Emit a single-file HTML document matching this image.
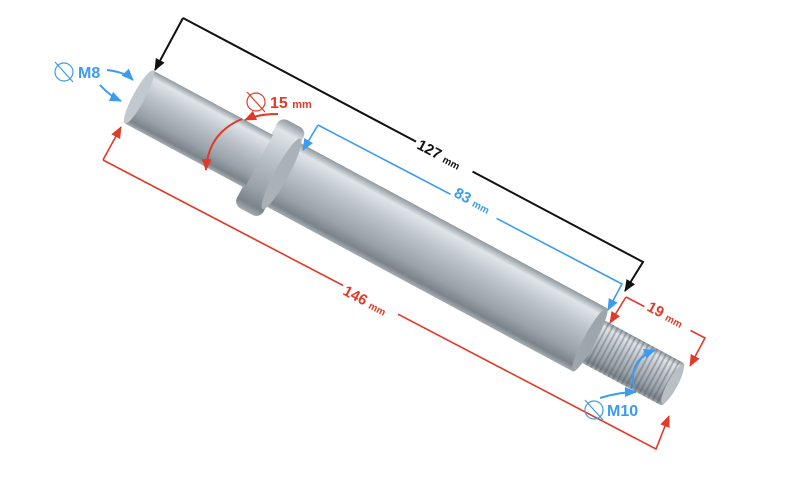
<!DOCTYPE html>
<html><head><meta charset="utf-8"><style>
html,body{margin:0;padding:0;background:#fff;}
svg{display:block;}
text{font-family:"Liberation Sans",sans-serif;font-weight:bold;}
</style></head><body>
<svg width="800" height="500" viewBox="0 0 800 500" xmlns="http://www.w3.org/2000/svg">
<defs>
<linearGradient id="gs" x1="0" y1="0" x2="0" y2="1">
<stop offset="0" stop-color="#8f989f"/>
<stop offset="0.12" stop-color="#dfe4e8"/>
<stop offset="0.4" stop-color="#bcc3c9"/>
<stop offset="0.75" stop-color="#9aa2a9"/>
<stop offset="0.92" stop-color="#7c848b"/>
<stop offset="1" stop-color="#a5adb3"/>
</linearGradient>
<pattern id="th" width="5" height="60" patternUnits="userSpaceOnUse">
<rect x="0" width="2" height="60" fill="#4c545b" opacity="0.35"/>
</pattern>
<marker id="ab" markerUnits="userSpaceOnUse" markerWidth="12" markerHeight="12" refX="11" refY="6" orient="auto"><path d="M0,1 L12,6 L0,11 z" fill="#111"/></marker>
<marker id="au" markerUnits="userSpaceOnUse" markerWidth="12" markerHeight="12" refX="11" refY="6" orient="auto"><path d="M0,1 L12,6 L0,11 z" fill="#3a9bf0"/></marker>
<marker id="ar" markerUnits="userSpaceOnUse" markerWidth="12" markerHeight="12" refX="11" refY="6" orient="auto"><path d="M0,1 L12,6 L0,11 z" fill="#e03a28"/></marker>
</defs>

<g transform="translate(139,97) rotate(28.3)">
  <rect x="505" y="-24" width="103" height="48" rx="4" fill="url(#gs)"/>
  <rect x="520" y="-24" width="85" height="48" fill="url(#th)"/>
  <ellipse cx="606" cy="0" rx="5" ry="22" fill="#b8c0c6"/>
  <rect x="160" y="-36" width="352" height="72" fill="url(#gs)"/>
  <ellipse cx="512" cy="0" rx="6" ry="36" fill="#9ea6ad"/>
  <rect x="134" y="-50" width="30" height="100" rx="8" fill="url(#gs)"/>
  <ellipse cx="162" cy="0" rx="7" ry="40" fill="#aab2b8"/>
  <rect x="0" y="-30" width="136" height="60" fill="url(#gs)"/>
  <ellipse cx="0" cy="0" rx="6" ry="30" fill="#c2c9ce"/>
</g>

<polyline points="183,18 643,262 625,291" fill="none" stroke="#111" stroke-width="2" marker-end="url(#ab)"/>
<path d="M183,18 L155,70" stroke="#111" stroke-width="2" marker-end="url(#ab)"/>
<polyline points="318,125 622,284 608,310" fill="none" stroke="#3a9bf0" stroke-width="1.6" marker-end="url(#au)"/>
<path d="M318,125 L303,150" stroke="#3a9bf0" stroke-width="1.6" marker-end="url(#au)"/>
<polyline points="103,160 656,449 669,416" fill="none" stroke="#e03a28" stroke-width="1.6" marker-end="url(#ar)"/>
<path d="M103,160 L121,127" stroke="#e03a28" stroke-width="1.6" marker-end="url(#ar)"/>
<polyline points="626,297 705,338 690,366" fill="none" stroke="#e03a28" stroke-width="1.6" marker-end="url(#ar)"/>
<path d="M626,297 L610,323" stroke="#e03a28" stroke-width="1.6" marker-end="url(#ar)"/>

<g transform="translate(416,148) rotate(28)"><rect x="-3" y="-15" width="64" height="20" fill="#fff"/><text x="0" y="0" font-size="15" fill="#111">127 <tspan font-size="10">mm</tspan></text></g>
<g transform="translate(453,196) rotate(28)"><rect x="-3" y="-15" width="52" height="20" fill="#fff"/><text x="0" y="0" font-size="15" fill="#3a9bf0">83 <tspan font-size="10">mm</tspan></text></g>
<g transform="translate(342,294) rotate(28)"><rect x="-3" y="-15" width="62" height="20" fill="#fff"/><text x="0" y="0" font-size="15" fill="#e03a28">146 <tspan font-size="10">mm</tspan></text></g>
<g transform="translate(646,310) rotate(28)"><rect x="-3" y="-15" width="52" height="20" fill="#fff"/><text x="0" y="0" font-size="15" fill="#e03a28">19 <tspan font-size="10">mm</tspan></text></g>

<circle cx="64" cy="72" r="9" fill="none" stroke="#3a9bf0" stroke-width="1.2"/>
<line x1="55" y1="62" x2="73" y2="82" stroke="#3a9bf0" stroke-width="1.2"/>
<text x="78" y="78" font-size="16" fill="#3a9bf0">M8</text>
<path d="M107,70 Q125,72 133,80" fill="none" stroke="#3a9bf0" stroke-width="2" marker-end="url(#au)"/>
<path d="M100,85 Q110,96 121,101" fill="none" stroke="#3a9bf0" stroke-width="2" marker-end="url(#au)"/>

<circle cx="256" cy="102" r="9" fill="none" stroke="#e03a28" stroke-width="1.2"/>
<line x1="247" y1="92" x2="265" y2="112" stroke="#e03a28" stroke-width="1.2"/>
<text x="270" y="108" font-size="16" fill="#e03a28">15 <tspan font-size="11">mm</tspan></text>
<path d="M278,114 Q258,114 245,120" fill="none" stroke="#e03a28" stroke-width="2" marker-end="url(#ar)"/>
<path d="M242,119 Q208,133 206,170" fill="none" stroke="#e03a28" stroke-width="2" marker-end="url(#ar)"/>

<circle cx="594" cy="410" r="9" fill="none" stroke="#3a9bf0" stroke-width="1.2"/>
<line x1="585" y1="400" x2="603" y2="420" stroke="#3a9bf0" stroke-width="1.2"/>
<text x="607" y="416" font-size="16" fill="#3a9bf0">M10</text>
<path d="M600,398 Q620,392 636,392" fill="none" stroke="#3a9bf0" stroke-width="2" marker-end="url(#au)"/>
<path d="M634,388 Q628,360 655,350" fill="none" stroke="#3a9bf0" stroke-width="2" marker-end="url(#au)"/>
</svg>
</body></html>
